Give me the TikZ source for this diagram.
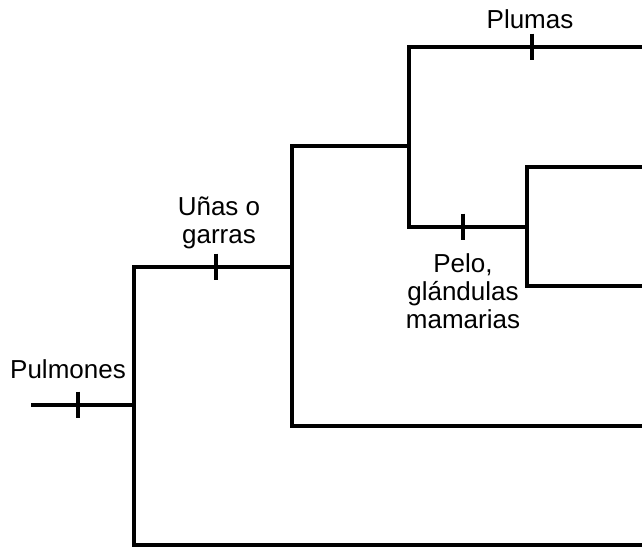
\documentclass[tikz,border=0pt]{standalone}
\usepackage{fontspec}
\setmainfont{Liberation Sans}
\usetikzlibrary{positioning}

\tikzset{
  rama/.style={line width=3pt},
  marca/.style={line width=3pt},
  rasgo/.style={font=\fontsize{19.5}{21}\selectfont, align=center, inner sep=0pt, anchor=base}
}

\begin{document}
\begin{tikzpicture}[x=0.75pt,y=-0.75pt]
 \useasboundingbox (0,0) rectangle (642,550);
 % nodos del arbol
 \coordinate (raiz) at (31,405);
 \coordinate (n1) at (134,405);
 \coordinate (n1a) at (134,267);
 \coordinate (n1b) at (134,545);
 \coordinate (h1) at (642,545);
 \coordinate (n2) at (292,267);
 \coordinate (n2a) at (292,146);
 \coordinate (n2b) at (292,426);
 \coordinate (h2) at (642,426);
 \coordinate (n3) at (409,146);
 \coordinate (n3a) at (409,47);
 \coordinate (n3b) at (409,227);
 \coordinate (h3) at (642,47);
 \coordinate (n4) at (527,227);
 \coordinate (n4a) at (527,167);
 \coordinate (n4b) at (527,286);
 \coordinate (h4) at (642,167);
 \coordinate (h5) at (642,286);
 % ramas
 \draw[rama] (raiz) -- (n1);
 \draw[rama] (h1) -- (n1b) -- (n1a) -- (n2);
 \draw[rama] (h2) -- (n2b) -- (n2a) -- (n3);
 \draw[rama] (h3) -- (n3a) -- (n3b) -- (n4);
 \draw[rama] (h4) -- (n4a) -- (n4b) -- (h5);
 % marcas
 \coordinate (m1) at (78,405);
 \coordinate (m2) at (216,267);
 \coordinate (m3) at (532,47);
 \coordinate (m4) at (463,227);
 \foreach \m in {m1,m2,m3,m4}
  \draw[marca] ([yshift=10pt]\m) -- ([yshift=-10pt]\m);
 % caracteres
 \node[rasgo] (pulmones) at (68,378) {Pulmones};
 \node[rasgo] (unas) at (219,243) {Uñas o\\garras};
 \node[rasgo] (plumas) at (530,28) {Plumas};
 \node[rasgo] (pelo) at (463,328) {Pelo,\\glándulas\\mamarias};
\end{tikzpicture}
\end{document}
